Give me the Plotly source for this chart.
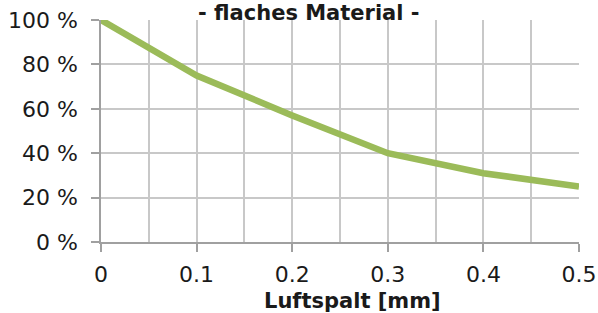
import plotly.graph_objects as go

luftspalt_mm = [0, 0.1, 0.2, 0.3, 0.4, 0.5]
anteil_pct = [100, 75, 57, 40, 31, 25]
x_ticks = [0, 0.1, 0.2, 0.3, 0.4, 0.5]
x_tick_labels = ["0", "0.1", "0.2", "0.3", "0.4", "0.5"]
y_ticks = [0, 20, 40, 60, 80, 100]
y_tick_labels = ["0 %", "20 %", "40 %", "60 %", "80 %", "100 %"]

fig = go.Figure()
fig.add_trace(go.Scatter(
    x=luftspalt_mm, y=anteil_pct, mode="lines",
    line=dict(color="#9BBB59", width=6.5),
    hoverinfo="skip", showlegend=False,
))

font_family = "DejaVu Sans, Verdana, sans-serif"
fig.update_layout(
    width=598, height=313,
    margin=dict(l=101, r=19, t=20, b=71),
    paper_bgcolor="white", plot_bgcolor="white",
    font=dict(family=font_family, size=22, color="#1a1a1a"),
    xaxis=dict(
        range=[0, 0.5], tickvals=x_ticks, ticktext=x_tick_labels,
        showgrid=True, gridcolor="#C8C8C8", gridwidth=1.5,
        minor=dict(dtick=0.05, tick0=0, showgrid=True, gridcolor="#C8C8C8", gridwidth=1.5, ticks=""),
        ticks="outside", ticklen=8, tickcolor="#A0A0A0", tickwidth=1.5,
        showline=True, linecolor="#A0A0A0", linewidth=1.5,
        zeroline=False, mirror=False, ticklabelstandoff=4,
        tickfont=dict(size=22), automargin=False,
    ),
    yaxis=dict(
        range=[0, 100], tickvals=y_ticks, ticktext=y_tick_labels,
        showgrid=True, gridcolor="#C8C8C8", gridwidth=1.5,
        ticks="outside", ticklen=8, tickcolor="#A0A0A0", tickwidth=1.5,
        showline=True, linecolor="#A0A0A0", linewidth=1.5,
        zeroline=False, ticklabelstandoff=9,
        tickfont=dict(size=22), automargin=False,
    ),
    annotations=[
        dict(text="<b>- flaches Material -</b>", xref="paper", yref="paper",
             x=(309 - 101) / 478, y=1.0, yshift=20, xanchor="center", yanchor="top",
             showarrow=False, font=dict(size=21), borderpad=0),
        dict(text="<b>Luftspalt [mm]</b>", xref="paper", yref="paper",
             x=(352 - 101) / 478, y=0, yshift=-59, xanchor="center", yanchor="middle",
             showarrow=False, font=dict(size=21), borderpad=0),
    ],
)

fig.write_html(
    "out.html",
    config={"displayModeBar": False},
    post_script="document.body.style.margin='0';document.body.style.padding='0';document.body.style.overflow='hidden';",
)
